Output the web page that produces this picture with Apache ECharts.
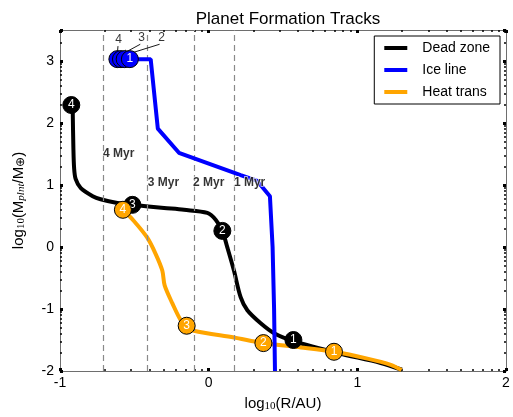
<!DOCTYPE html>
<html>
<head>
<meta charset="utf-8">
<script src="https://cdn.jsdelivr.net/npm/echarts@6/dist/echarts.min.js"></script>
<style>
  html, body { margin: 0; padding: 0; background: #fff; }
  #chart { width: 513px; height: 417px; }
</style>
</head>
<body>
<div id="chart"></div>
<script>
// Tracks: [log10(R/AU), log10(M/M_earth)]
const deadZoneTrack = [
  [-0.915, 2.29], [-0.91, 1.6], [-0.905, 1.27], [-0.895, 1.10], [-0.86, 0.95],
  [-0.78, 0.82], [-0.727, 0.77], [-0.614, 0.71], [-0.513, 0.68], [-0.30, 0.63],
  [-0.166, 0.60], [-0.009, 0.55], [0.047, 0.44], [0.092, 0.26], [0.126, -0.01],
  [0.17, -0.38], [0.215, -0.81], [0.26, -1.02], [0.35, -1.23], [0.44, -1.39],
  [0.574, -1.52], [0.866, -1.71], [1.157, -1.87], [1.30, -1.98]
];
const iceLineTrack = [
  [-0.614, 3.03], [-0.39, 3.03], [-0.342, 1.91], [-0.20, 1.52], [0.215, 1.16],
  [0.327, 1.065], [0.412, 0.82], [0.43, 0.0], [0.44, -1.0], [0.446, -2.0]
];
const heatTransTrack = [
  [-0.577, 0.60], [-0.503, 0.42], [-0.413, 0.15], [-0.357, -0.11], [-0.312, -0.38],
  [-0.296, -0.62], [-0.244, -0.91], [-0.188, -1.18], [-0.148, -1.27], [-0.099, -1.35],
  [0.17, -1.46], [0.368, -1.55], [0.62, -1.62], [0.843, -1.69], [1.068, -1.80],
  [1.225, -1.90], [1.297, -1.985]
];

// Numbered time markers: [x, y, label]
const deadZoneMarks = [[-0.924, 2.29, '4'], [-0.513, 0.68, '3'], [0.092, 0.26, '2'], [0.57, -1.50, '1']];
const heatTransMarks = [[-0.577, 0.60, '4'], [-0.148, -1.27, '3'], [0.368, -1.55, '2'], [0.843, -1.69, '1']];
const iceLineMarks = [[-0.614, 3.03, '4'], [-0.59, 3.03, '3'], [-0.565, 3.03, '2'], [-0.53, 3.03, '1']];

// Callouts for the overlapping ice-line markers: text position and arrow target
const iceCallouts = [
  { text: '4', at: [-0.606, 3.34], from: [-0.61, 3.24], to: [-0.615, 3.09] },
  { text: '3', at: [-0.452, 3.37], from: [-0.46, 3.27], to: [-0.575, 3.12] },
  { text: '2', at: [-0.316, 3.37], from: [-0.33, 3.27], to: [-0.545, 3.11] }
];

// Vertical reference lines with ages
const eraX = [-0.71, -0.41, -0.105, 0.17];
const eraLabels = ['4 Myr', '3 Myr', '2 Myr', '1 Myr'];
const eraLabelY = [1.51, 1.04, 1.04, 1.04];

const xTicks = [-1, 0, 1, 2];
const yTicks = [-2, -1, 0, 1, 2, 3];

// Log-style minor tick positions within each unit decade
function minorTicks(lo, hi) {
  const out = [];
  for (let k = Math.floor(lo); k < hi; k++) {
    for (let m = 2; m <= 9; m++) {
      const v = k + Math.log10(m);
      if (v > lo && v < hi) out.push(v);
    }
  }
  return out;
}
const xMinor = minorTicks(-1, 2);
const yMinor = minorTicks(-2, 3.5);

const FONT = 'Liberation Sans, Arial, sans-serif';
const SERIF = 'Liberation Serif, serif';
const axisGray = '#6e6e6e';

function baseAxis(min, max, pos, extra) {
  return Object.assign({
    type: 'value', min: min, max: max, interval: 1, position: pos,
    axisLine: { show: true, onZero: false, lineStyle: { color: axisGray, width: 1 } },
    axisTick: { show: true, inside: true, length: 3, lineStyle: { color: '#000', width: 3 } },
    axisLabel: { show: false },
    splitLine: { show: false }
  }, extra || {});
}
function minorAxis(min, max, pos, ticks) {
  return {
    type: 'value', min: min, max: max, position: pos,
    axisLine: { show: false, onZero: false },
    axisTick: { show: true, inside: true, length: 2, customValues: ticks, lineStyle: { color: '#000', width: 1.5 } },
    axisLabel: { show: false },
    splitLine: { show: false }
  };
}

// A marker's number is hidden when the next marker of the track sits on top of it
function markerData(marks) {
  return marks.map((m, i) => {
    const next = marks[i + 1];
    const covered = next && Math.abs(next[0] - m[0]) < 0.08 && Math.abs(next[1] - m[1]) < 0.15;
    return { value: m, label: { show: !covered } };
  });
}

const markerLabel = { show: true, position: 'inside', color: '#fff', fontSize: 12, fontFamily: FONT, formatter: p => p.value[2] };

const nameRich = {
  n: { fontSize: 15, color: '#000', fontFamily: FONT },
  s: { fontSize: 11, color: '#000', fontFamily: SERIF, padding: [6, 0, 0, 0] },
  i: { fontSize: 11, color: '#000', fontFamily: SERIF, fontStyle: 'italic', padding: [6, 0, 0, 0] },
  e: { fontSize: 12, color: '#000', fontFamily: SERIF, padding: [5, 0, 0, 0] }
};

const chart = echarts.init(document.getElementById('chart'), null, { renderer: 'canvas' });
chart.setOption({
  animation: false,
  backgroundColor: '#fff',
  title: {
    text: 'Planet Formation Tracks', left: 283, top: 6, textAlign: 'center',
    textStyle: { fontSize: 17, fontWeight: 'normal', color: '#000', fontFamily: FONT }
  },
  legend: {
    orient: 'vertical', right: 13, top: 36,
    data: ['Dead zone', 'Ice line', 'Heat trans'],
    icon: 'rect', itemWidth: 23, itemHeight: 4, itemGap: 8,
    backgroundColor: '#fff', borderColor: '#000', borderWidth: 1, borderRadius: 0,
    padding: [5, 10, 5, 10],
    textStyle: { fontSize: 14, color: '#000', fontFamily: FONT, padding: [0, 0, 0, 10] }
  },
  grid: { left: 60, right: 7, top: 30, bottom: 43, containLabel: false },
  xAxis: [
    baseAxis(-1, 2, 'bottom', {
      axisLabel: { show: true, fontSize: 14, color: '#000', fontFamily: FONT, margin: 5, customValues: xTicks },
      name: '{n|log}{s|10}{n|(R/AU)}', nameLocation: 'middle', nameGap: 24,
      nameTextStyle: { rich: nameRich }
    }),
    baseAxis(-1, 2, 'top'),
    minorAxis(-1, 2, 'bottom', xMinor),
    minorAxis(-1, 2, 'top', xMinor)
  ],
  yAxis: [
    baseAxis(-2, 3.5, 'left', {
      axisLabel: { show: true, fontSize: 14, color: '#000', fontFamily: FONT, margin: 6, customValues: yTicks },
      name: '{n|log}{s|10}{n|(M}{i|plnt}{n|/M}{e|⊕}{n|)}', nameLocation: 'middle', nameGap: 33, nameRotate: 90,
      nameTextStyle: { rich: nameRich }
    }),
    baseAxis(-2, 3.5, 'right'),
    minorAxis(-2, 3.5, 'left', yMinor),
    minorAxis(-2, 3.5, 'right', yMinor)
  ],
  series: [
    {
      name: 'Dead zone', type: 'line', data: deadZoneTrack, smooth: 0.3, showSymbol: false,
      lineStyle: { color: '#000', width: 4 }, itemStyle: { color: '#000' }, z: 3,
      markLine: {
        silent: true, symbol: ['none', 'none'], label: { show: false },
        lineStyle: { color: '#8a8a8a', type: [6, 4], width: 1.2 },
        data: eraX.map(v => ({ xAxis: v }))
      }
    },
    {
      name: 'Heat trans', type: 'line', data: heatTransTrack, smooth: 0.3, showSymbol: false,
      lineStyle: { color: '#ffa500', width: 4 }, itemStyle: { color: '#ffa500' }, z: 4
    },
    {
      name: 'Ice line', type: 'line', data: iceLineTrack, smooth: false, showSymbol: false,
      lineStyle: { color: '#0000ff', width: 4 }, itemStyle: { color: '#0000ff' }, z: 5
    },
    {
      type: 'scatter', data: eraX.map((v, i) => [v, eraLabelY[i], eraLabels[i]]),
      symbolSize: 0, silent: true, z: 6,
      label: {
        show: true, position: 'right', distance: 0, formatter: p => p.value[2],
        fontSize: 12, fontWeight: 'bold', color: '#000', fontFamily: FONT,
        textBorderColor: '#fff', textBorderWidth: 1.5
      }
    },
    {
      type: 'scatter', data: markerData(deadZoneMarks), symbolSize: 17, z: 7,
      itemStyle: { color: '#000', borderColor: '#000', borderWidth: 1, opacity: 1 }, label: markerLabel
    },
    {
      type: 'scatter', data: markerData(heatTransMarks), symbolSize: 17, z: 8,
      itemStyle: { color: '#ffa500', borderColor: '#000', borderWidth: 1, opacity: 1 }, label: markerLabel
    },
    {
      type: 'scatter', data: markerData(iceLineMarks), symbolSize: 17, z: 9,
      itemStyle: { color: '#0000ff', borderColor: '#000', borderWidth: 1, opacity: 1 }, label: markerLabel,
      markLine: {
        silent: true, symbol: ['none', 'arrow'], symbolSize: 4,
        label: { show: false }, lineStyle: { color: '#000', type: 'solid', width: 0.9, opacity: 1 },
        data: iceCallouts.map(c => [{ coord: c.from }, { coord: c.to }])
      }
    },
    {
      type: 'scatter', data: iceCallouts.map(c => [c.at[0], c.at[1], c.text]),
      symbolSize: 0, silent: true, z: 10,
      label: { show: true, position: 'inside', formatter: p => p.value[2], fontSize: 12, color: '#000', fontFamily: FONT }
    }
  ]
});
</script>
</body>
</html>
